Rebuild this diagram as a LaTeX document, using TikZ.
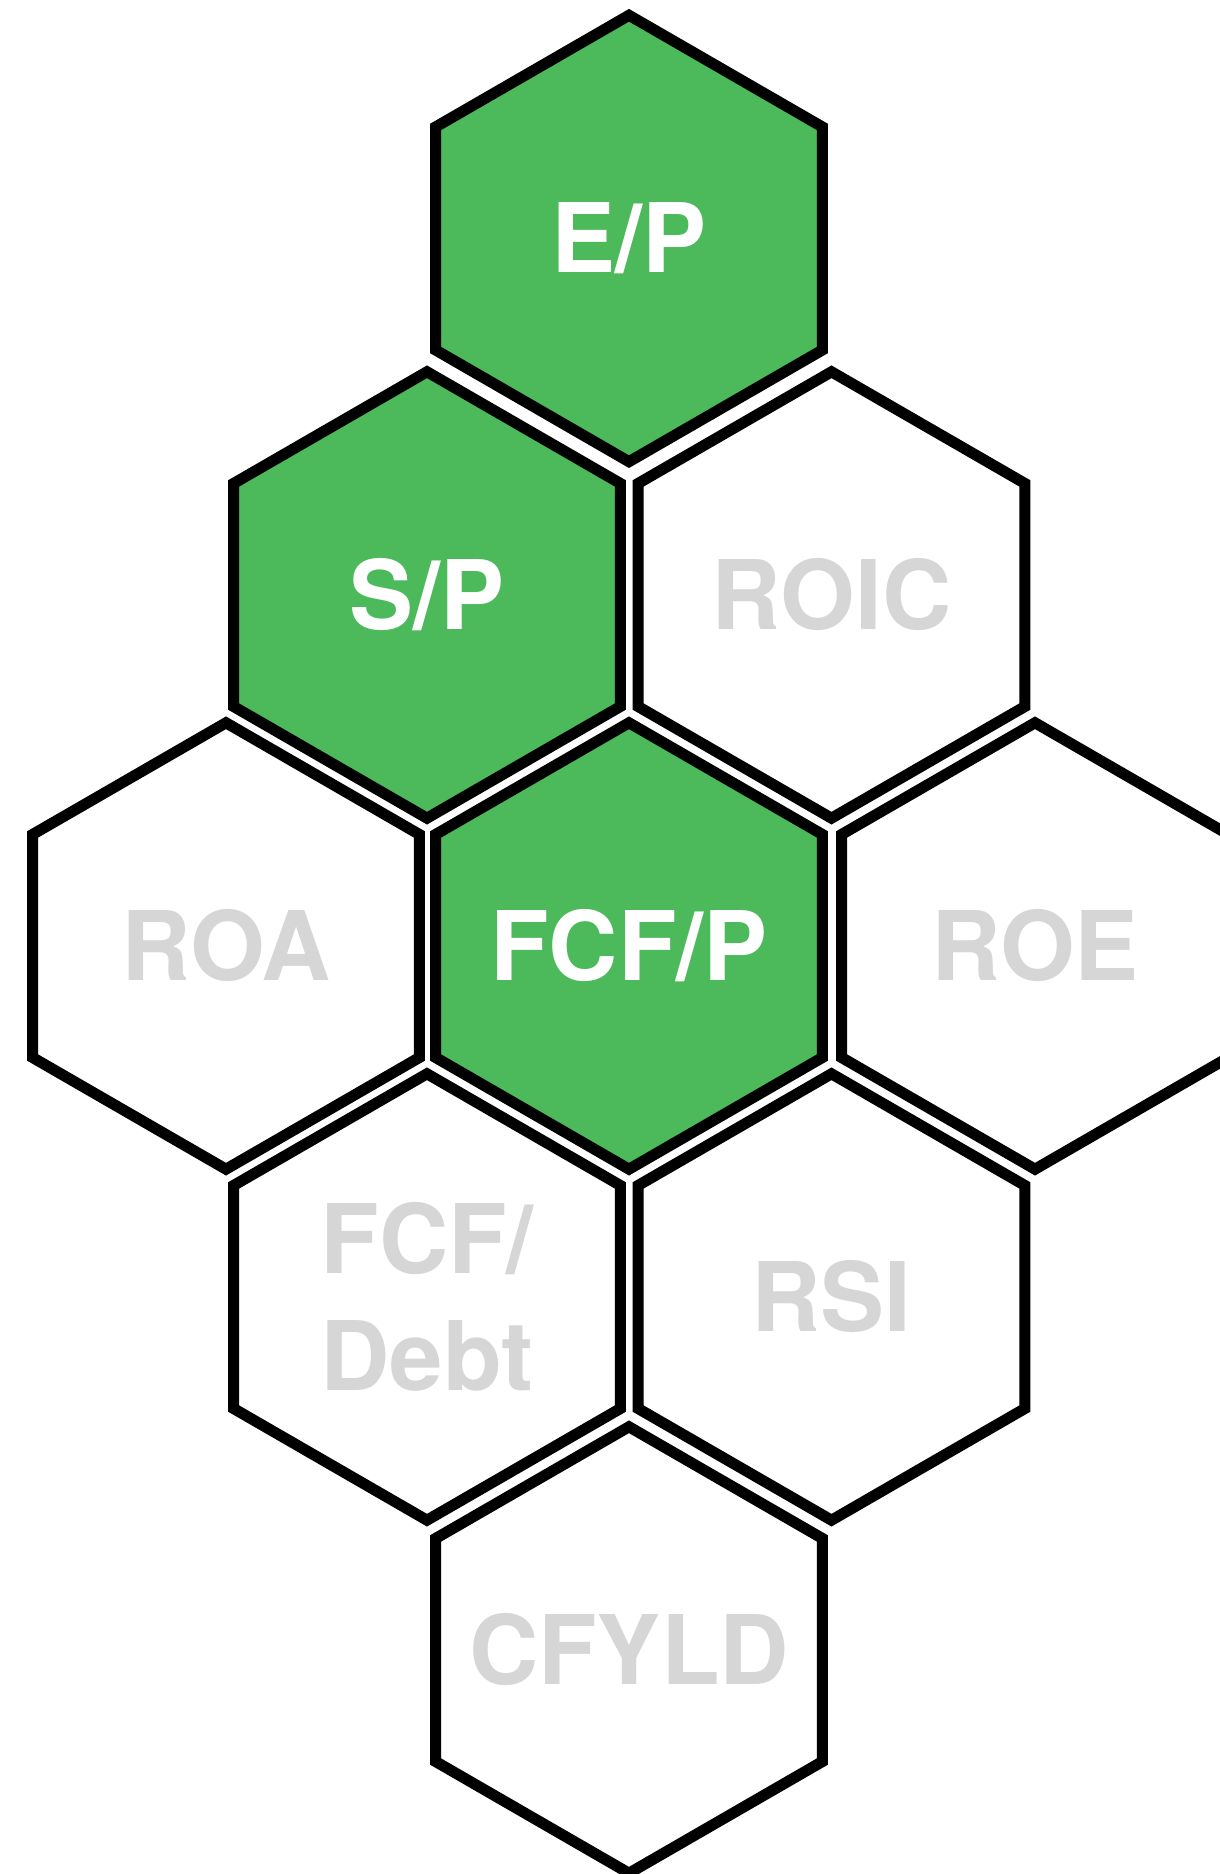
\documentclass[tikz,border=0pt]{standalone}
\usepackage{fontspec}
\setmainfont{TeX Gyre Heros}
\usetikzlibrary{shapes.geometric}
\definecolor{hexgreen}{RGB}{76,185,91}
\definecolor{labelgray}{RGB}{214,214,214}

\begin{document}
\begin{tikzpicture}
            [
            x=1pt,
            y=1pt,
            hex/.style={
                regular polygon,
                regular polygon sides=6,
                shape border rotate=30,
                draw=black,
                line width=11pt,
                minimum size=446.4pt,
                inner sep=0pt
            },
            tag/.style={
                inner sep=0pt,
                align=center,
                font=\bfseries\fontsize{96}{117.6}\selectfont
            },
            picked/.style={
                hex,
                fill=hexgreen,
                label={[tag, text=white]center:#1}
            },
            unpicked/.style={
                hex,
                fill=white,
                label={[tag, text=labelgray]center:#1}
            }
            ]
            \useasboundingbox (0,0) rectangle (1220,1874);

            % top of the stack
            \node (ep) [picked=E/P] at (629,1635.5) {};

            % second row
            \node (sp) [picked=S/P] at (427,1279) {};
            \node (roic) [unpicked=ROIC] at (831.5,1279) {};

            % middle row, ROE runs off the right edge
            \node (roa) [unpicked=ROA] at (226,928) {};
            \node (fcfp) [picked=FCF/P] at (629,928) {};
            \node (roe) [unpicked=ROE] at (1035,928) {};

            % fourth row
            \node (fcfdebt) [hex, fill=white, label={[tag, text=labelgray]center:{FCF/\\Debt}}] at (427,577) {};
            \node (rsi) [unpicked=RSI] at (831.5,577) {};

            % bottom
            \node (cfyld) [unpicked=CFYLD] at (629,224) {};

        \end{tikzpicture}
\end{document}
